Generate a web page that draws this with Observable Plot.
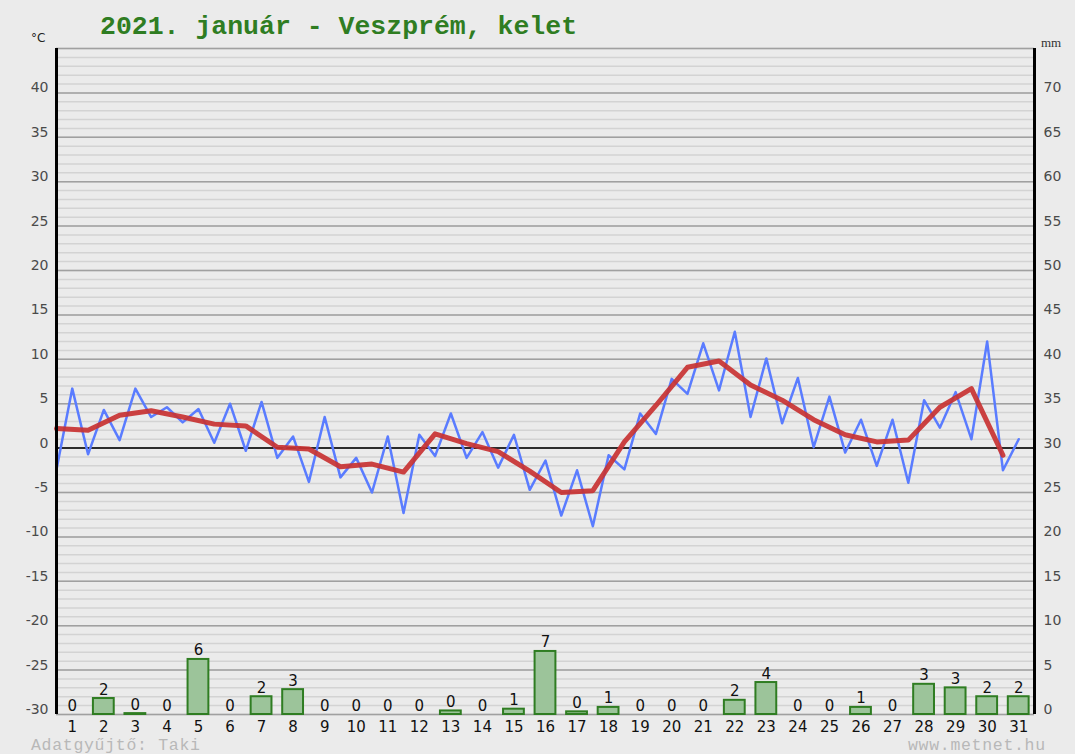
<!DOCTYPE html>
<html><head><meta charset="utf-8">
<script src="https://cdn.jsdelivr.net/npm/d3@7"></script>
<script src="https://cdn.jsdelivr.net/npm/@observablehq/plot@0.6"></script>
<style>
html,body{margin:0;padding:0;background:#ebebeb;}
#wrap{position:relative;width:1075px;height:754px;overflow:hidden;background:#ebebeb;}
#chart{position:absolute;left:0;top:0;}
.lbl{position:absolute;white-space:nowrap;line-height:1;}
#title{left:100px;top:14px;font-family:"Liberation Mono",monospace;font-weight:bold;font-size:26.5px;color:#2f7d22;}
#unitC{left:31px;top:32px;font-family:"DejaVu Sans",sans-serif;font-size:12px;color:#222;}
#unitMm{left:1041px;top:36px;font-family:"Liberation Serif",serif;font-size:13px;color:#333;}
#credit{left:31px;top:738px;font-family:"Liberation Mono",monospace;font-size:16.5px;letter-spacing:0.7px;color:#b8b8b8;}
#site{left:908px;top:738px;font-family:"Liberation Mono",monospace;font-size:16.5px;letter-spacing:0.7px;color:#b8b8b8;}
</style></head><body>
<div id="wrap">
<div id="chart"></div>
<div class="lbl" id="title">2021. január - Veszprém, kelet</div>
<div class="lbl" id="unitC">°C</div>
<div class="lbl" id="unitMm">mm</div>
<div class="lbl" id="credit">Adatgyűjtő: Taki</div>
<div class="lbl" id="site">www.metnet.hu</div>
</div>
<script>
// Days of the month
const days = d3.range(1, 32);
// Temperature readings every 12 hours (°C), starting 1 Jan 00:00
const tempHalfDay = [
  -2.4, 6.7, -0.7, 4.3, 0.9, 6.7, 3.5, 4.6, 2.9, 4.4,
  0.6, 5.0, -0.3, 5.2, -1.1, 1.3, -3.8, 3.5, -3.3, -1.1,
  -5.0, 1.3, -7.3, 1.5, -0.9, 3.9, -1.1, 1.8, -2.2, 1.5,
  -4.7, -1.4, -7.6, -2.5, -8.8, -0.8, -2.4, 3.9, 1.6, 7.8,
  6.1, 11.8, 6.5, 13.1, 3.5, 10.1, 2.8, 7.9, 0.1, 5.8,
  -0.5, 3.2, -2.0, 3.2, -3.9, 5.4, 2.3, 6.3, 1.0, 12.0,
  -2.5, 1.0
];
// Daily mean temperature (°C)
const dailyMean = [
  2.2, 2.0, 3.7, 4.2, 3.5, 2.7, 2.5, 0.1, -0.1, -2.1,
  -1.8, -2.7, 1.6, 0.5, -0.4, -2.6, -5.0, -4.8, 0.7, 4.8,
  9.1, 9.8, 7.1, 5.4, 3.2, 1.5, 0.7, 0.9, 4.6, 6.7, -0.8
];
// Daily precipitation (mm)
const precip = [
  0, 1.8, 0.1, 0, 6.2, 0, 2.0, 2.8, 0, 0,
  0, 0, 0.4, 0, 0.6, 7.1, 0.3, 0.8, 0, 0,
  0, 1.6, 3.6, 0, 0, 0.8, 0, 3.4, 3.0, 2.0, 2.0
];
// Axis ticks
const tempTicks = d3.range(-30, 41, 5);
const minorGrid = d3.range(-30, 46, 1);
const majorGrid = d3.range(-30, 46, 5);
const precipBase = -30; // 0 mm sits on -30 °C

const halfDayData = tempHalfDay.map((v, i) => ({t: i * 12 / 24, v}));
const meanData = dailyMean.map((v, i) => ({t: i, v}));
const rainData = precip.map((mm, i) => ({day: days[i], mm, label: String(Math.round(mm))}));

const chart = Plot.plot({
  width: 1075,
  height: 754,
  marginLeft: 56,
  marginRight: 41,
  marginTop: 48,
  marginBottom: 40,
  style: {background: "transparent", fontFamily: "DejaVu Sans, sans-serif"},
  x: {domain: [0, 31]},
  y: {domain: [-30, 45]},
  marks: [
    Plot.ruleY(minorGrid, {stroke: "#d3d3d3", strokeWidth: 1.5}),
    Plot.ruleY(majorGrid, {stroke: "#a0a0a0", strokeWidth: 1.5}),
    Plot.ruleY([0], {stroke: "#000", strokeWidth: 1.5}),
    Plot.rect(rainData, {
      x1: d => d.day - 0.5 - 0.33,
      x2: d => d.day - 0.5 + 0.33,
      y1: precipBase,
      y2: d => precipBase + d.mm,
      fill: "#9cc49a",
      stroke: "#2f7d22",
      strokeWidth: 2
    }),
    Plot.text(rainData, {
      x: d => d.day - 0.5,
      y: d => precipBase + d.mm,
      text: "label",
      lineAnchor: "bottom",
      dy: -4,
      fontSize: 15,
      fill: "#111"
    }),
    Plot.line(halfDayData, {x: "t", y: "v", stroke: "#5a7cff", strokeWidth: 2.5}),
    Plot.line(meanData, {x: "t", y: "v", stroke: "#c83232", strokeWidth: 5, strokeOpacity: 0.92, strokeLinejoin: "round"}),
    Plot.ruleX([0], {stroke: "#000", strokeWidth: 3}),
    Plot.ruleX([31], {stroke: "#000", strokeWidth: 3}),
    Plot.axisY({anchor: "left", ticks: tempTicks, tickFormat: d => String(d), tickSize: 0, tickPadding: 8, dy: -5, fontSize: 14, color: "#4a4a4a", label: null}),
    Plot.axisY({anchor: "right", ticks: tempTicks, tickFormat: d => String(d - precipBase), tickSize: 0, tickPadding: 9, dy: -5, fontSize: 14, color: "#4a4a4a", label: null}),
    Plot.axisX({ticks: days.map(d => d - 0.5), tickFormat: t => String(Math.round(t + 0.5)), tickSize: 0, tickPadding: 7, fontSize: 15, color: "#111", label: null})
  ]
});
document.getElementById("chart").appendChild(chart);
</script>
</body></html>
